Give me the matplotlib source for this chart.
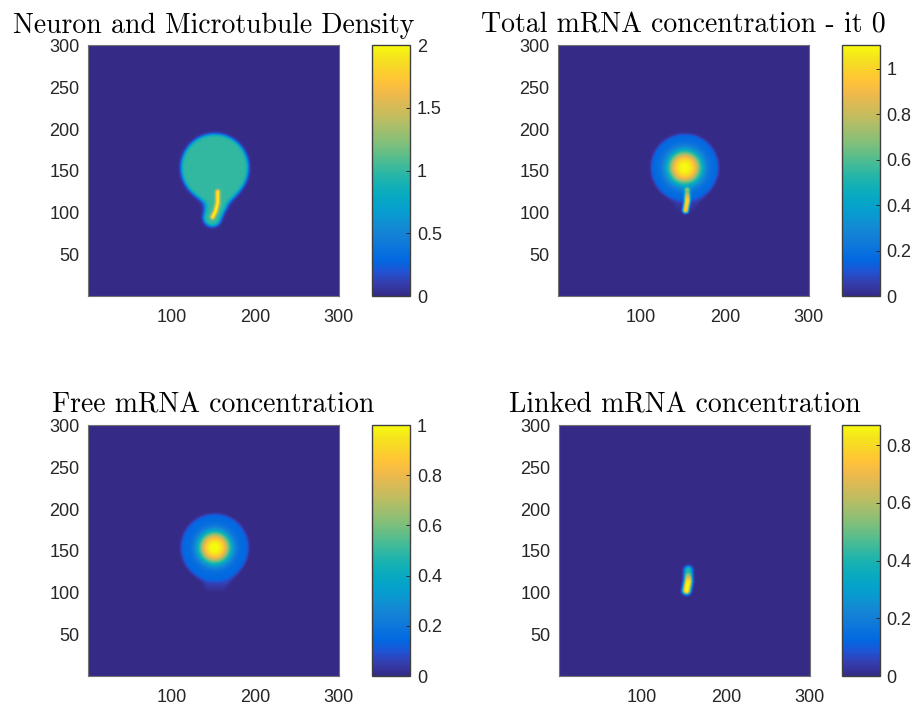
import numpy as np
import matplotlib.pyplot as plt
from matplotlib.colors import LinearSegmentedColormap

# --- chart values -------------------------------------------------------
titles = ["Neuron and Microtubule Density",
          "Total mRNA concentration - it 0",
          "Free mRNA concentration",
          "Linked mRNA concentration"]
cbar_max = [2.0, 1.105, 1.0, 0.87]
cbar_ticks = [[0, 0.5, 1, 1.5, 2],
              [0, 0.2, 0.4, 0.6, 0.8, 1],
              [0, 0.2, 0.4, 0.6, 0.8, 1],
              [0, 0.2, 0.4, 0.6, 0.8]]
x_ticks = [100, 200, 300]
y_ticks = [50, 100, 150, 200, 250, 300]
grid_n = 300

# neuron geometry (grid units)
soma_center = (152, 154)
soma_radius = 40
tail_path = [(156, 122), (154, 108), (149, 94)]
tail_radius = 10
mt_path = [(155.5, 125), (155.5, 112), (153, 102), (149.5, 95)]
linked_path = [(155, 127), (155, 114), (153, 103)]

# parula, every 3rd entry of the 64-colour table
parula = [(0.2081, 0.1663, 0.5292), (0.2081, 0.2386, 0.6771), (0.1253, 0.3242, 0.8303),
          (0.0060, 0.4086, 0.8828), (0.0498, 0.4586, 0.8641), (0.0779, 0.5040, 0.8384),
          (0.0641, 0.5570, 0.8240), (0.0265, 0.6137, 0.8135), (0.0228, 0.6535, 0.7768),
          (0.0590, 0.6838, 0.7254), (0.1453, 0.7098, 0.6646), (0.2586, 0.7317, 0.5954),
          (0.3953, 0.7459, 0.5244), (0.5300, 0.7491, 0.4661), (0.6473, 0.7456, 0.4188),
          (0.7525, 0.7384, 0.3768), (0.8507, 0.7299, 0.3360), (0.9450, 0.7261, 0.2886),
          (0.9990, 0.7653, 0.2164), (0.9789, 0.8271, 0.1633), (0.9589, 0.8949, 0.1132),
          (0.9763, 0.9831, 0.0538)]
cmap = LinearSegmentedColormap.from_list("parula", parula, N=256)


def path_dist(X, Y, pts):
    d = np.full(X.shape, np.inf)
    for (x0, y0), (x1, y1) in zip(pts[:-1], pts[1:]):
        dx, dy = x1 - x0, y1 - y0
        t = np.clip(((X - x0) * dx + (Y - y0) * dy) / (dx * dx + dy * dy), 0, 1)
        d = np.minimum(d, np.hypot(X - x0 - t * dx, Y - y0 - t * dy))
    return d


X, Y = np.meshgrid(np.arange(1, grid_n + 1), np.arange(1, grid_n + 1))
r = np.hypot(X - soma_center[0], Y - soma_center[1])
d_soma = r - soma_radius
d_tail = path_dist(X, Y, tail_path) - tail_radius
k = 7.0
d_neuron = -k * np.log(np.exp(-d_soma / k) + np.exp(-d_tail / k))
neuron = 1 / (1 + np.exp(d_neuron / 1.0))
soma = 1 / (1 + np.exp(d_soma / 1.0))
tail_only = np.clip(neuron - soma, 0, 1)
d_mt = path_dist(X, Y, mt_path)
d_link = path_dist(X, Y, linked_path)

mt = np.exp(-(d_mt / 2.6) ** 2)
density = neuron + mt * neuron

upper_tail = np.clip((Y - 100) / 15, 0, 1)
free = (0.15 + 0.85 * np.exp(-(r / 19) ** 3)) * soma + 0.08 * tail_only * upper_tail
amp = 0.87 - 0.45 * np.clip((Y - 113) / 12, 0, 1)
linked = amp * np.exp(-(d_link / 5.0) ** 3) * neuron
free2 = (0.17 + 0.93 * np.exp(-(r / 20) ** 3)) * soma + 0.06 * tail_only * upper_tail
total = free2 + 1.1 * amp * np.exp(-(d_link / 3.6) ** 3) * neuron

fields = [density, total, free, linked]

# --- layout (figure fractions) -----------------------------------------
fig = plt.figure(figsize=(9.17, 7.09), dpi=100)
ax_left = [0.096, 0.6085, 0.096, 0.6096]
cb_left = [0.4057, 0.918, 0.4057, 0.918]
bottoms = [0.5825, 0.5825, 0.0465, 0.0465]
w, h, cbw = 0.2737, 0.354, 0.0414
txt = (0.15, 0.15, 0.15)

for i in range(4):
    ax = fig.add_axes([ax_left[i], bottoms[i], w, h])
    im = ax.imshow(fields[i], origin="lower", cmap=cmap, vmin=0, vmax=cbar_max[i],
                   extent=[0.5, grid_n + 0.5, 0.5, grid_n + 0.5], aspect="auto")
    ax.set_xlim(0.5, 300.5)
    ax.set_ylim(0.5, 300.5)
    ax.set_xticks(x_ticks)
    ax.set_yticks(y_ticks)
    ax.tick_params(length=0, labelsize=13, labelcolor=txt)
    ax.tick_params(axis="x", pad=9)
    ax.tick_params(axis="y", pad=6)
    for lab in ax.get_xticklabels() + ax.get_yticklabels():
        lab.set_family("Liberation Sans")
    for s in ax.spines.values():
        s.set_color((0.45, 0.45, 0.45))
        s.set_linewidth(0.8)
    ax.set_title(titles[i], family="cmr10", fontsize=20, pad=9)

    cax = fig.add_axes([cb_left[i], bottoms[i], cbw, h])
    cb = fig.colorbar(im, cax=cax)
    cb.set_ticks(cbar_ticks[i])
    cb.set_ticklabels(["%g" % t for t in cbar_ticks[i]])
    cax.tick_params(direction="in", length=3, width=0.7, color=txt,
                    labelsize=13, labelcolor=txt, pad=5)
    for lab in cax.get_yticklabels():
        lab.set_family("Liberation Sans")
    cb.outline.set_edgecolor((0.25, 0.25, 0.25))
    cb.outline.set_linewidth(1.0)

fig.savefig("out.png", dpi=100)
